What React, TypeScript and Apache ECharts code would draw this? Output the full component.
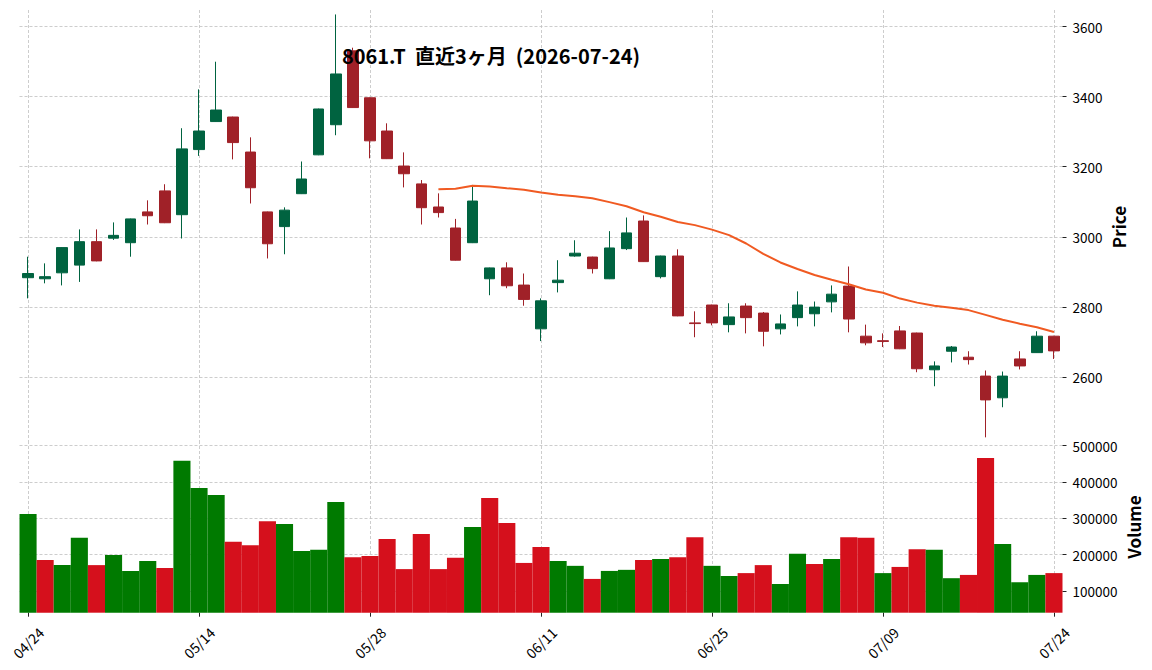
import React, { useEffect, useRef } from "react";
import * as echarts from "echarts";

const dates = [
  "04/24", "04/27", "04/28", "04/30", "05/01", "05/07", "05/08", "05/11", "05/12", "05/13",
  "05/14", "05/15", "05/18", "05/19", "05/20", "05/21", "05/22", "05/25", "05/26", "05/27",
  "05/28", "05/29", "06/01", "06/02", "06/03", "06/04", "06/05", "06/08", "06/09", "06/10",
  "06/11", "06/12", "06/15", "06/16", "06/17", "06/18", "06/19", "06/22", "06/23", "06/24",
  "06/25", "06/26", "06/29", "06/30", "07/01", "07/02", "07/03", "07/06", "07/07", "07/08",
  "07/09", "07/10", "07/13", "07/14", "07/15", "07/16", "07/17", "07/21", "07/22", "07/23",
  "07/24",
];

const opens = [
  2883, 2880, 2897, 2919, 2986, 2996, 2983, 3071, 3131, 3063,
  3249, 3329, 3342, 3242, 3071, 3029, 3123, 3234, 3320, 3531,
  3397, 3302, 3202, 3151, 3085, 3025, 2983, 2880, 2911, 2862,
  2737, 2869, 2945, 2942, 2880, 2966, 3045, 2886, 2945, 2754,
  2805, 2749, 2802, 2782, 2737, 2769, 2780, 2814, 2859, 2716,
  2703, 2731, 2725, 2620, 2673, 2656, 2602, 2540, 2651, 2669,
  2716,
];
const highs = [
  2943, 2924, 2970, 3021, 3021, 3041, 3052, 3104, 3150, 3310,
  3421, 3500, 3343, 3284, 3072, 3084, 3215, 3366, 3635, 3540,
  3398, 3324, 3241, 3162, 3124, 3051, 3148, 2912, 2927, 2895,
  2824, 2933, 2990, 2943, 3016, 3055, 3061, 2946, 2964, 2787,
  2806, 2810, 2810, 2785, 2778, 2844, 2815, 2861, 2915, 2749,
  2724, 2745, 2726, 2644, 2688, 2673, 2618, 2615, 2673, 2730,
  2717,
];
const lows = [
  2824, 2867, 2861, 2871, 2930, 2991, 2943, 3035, 3039, 2995,
  3231, 3328, 3221, 3095, 2938, 2950, 3122, 3233, 3290, 3368,
  3224, 3222, 3141, 3035, 3055, 2932, 2982, 2833, 2853, 2803,
  2702, 2841, 2943, 2895, 2879, 2962, 2928, 2881, 2773, 2713,
  2747, 2727, 2724, 2687, 2721, 2744, 2744, 2784, 2727, 2690,
  2685, 2679, 2613, 2573, 2641, 2635, 2427, 2513, 2621, 2668,
  2651,
];
const closes = [
  2895, 2886, 2969, 2986, 2931, 3004, 3051, 3060, 3040, 3251,
  3302, 3362, 3269, 3140, 2980, 3076, 3165, 3365, 3465, 3369,
  3274, 3223, 3180, 3083, 3069, 2933, 3102, 2911, 2860, 2821,
  2817, 2876, 2953, 2909, 2968, 3011, 2929, 2945, 2774, 2752,
  2754, 2771, 2769, 2730, 2751, 2805, 2799, 2836, 2765, 2697,
  2701, 2680, 2623, 2631, 2685, 2649, 2534, 2602, 2631, 2716,
  2674,
];
const volumes = [
  312000, 185000, 171000, 246000, 171000, 199000, 155000, 182000, 163000, 458000,
  383000, 364000, 235000, 226000, 292000, 284000, 210000, 213000, 345000, 193000,
  196000, 243000, 160000, 257000, 160000, 191000, 276000, 356000, 287000, 177000,
  221000, 182000, 169000, 133000, 155000, 158000, 185000, 188000, 193000, 248000,
  169000, 141000, 149000, 171000, 119000, 202000, 174000, 188000, 248000, 246000,
  149000, 166000, 215000, 213000, 135000, 144000, 466000, 229000, 124000, 144000,
  149000,
];

const dateTicks = ["04/24", "05/14", "05/28", "06/11", "06/25", "07/09", "07/24"];
const priceTicks = [2600, 2800, 3000, 3200, 3400, 3600];
const volumeTicks = [100000, 200000, 300000, 400000, 500000];
const maWindow = 25;

const TITLE = "8061.T  直近3ヶ月  (2026-07-24)";
const FONT = '"Noto Sans CJK JP", "Noto Sans", sans-serif';
const UP = "#006340";
const DOWN = "#a02128";
const VOL_UP = "#007a00";
const VOL_DOWN = "#d5101c";
const MA_COLOR = "#f05a22";

function movingAverage(values: number[], n: number): (number | null)[] {
  return values.map((_, i) => {
    if (i < n - 1) return null;
    let s = 0;
    for (let k = i - n + 1; k <= i; k++) s += values[k];
    return s / n;
  });
}

export default function App() {
  const ref = useRef<HTMLDivElement>(null);
  useEffect(() => {
    if (!ref.current) return;
    const chart = echarts.init(ref.current, undefined, { renderer: "svg" });
    const isTick = (_i: number, v: string) => dateTicks.includes(v);
    const gridLine = { show: true, lineStyle: { color: "#c0c0c0", width: 0.8, type: [3, 2] as any } };
    const ma = movingAverage(closes, maWindow);
    const candleData = dates.map((_, i) => [opens[i], closes[i], lows[i], highs[i]]);
    const volData = dates.map((_, i) => ({
      value: volumes[i],
      itemStyle: { color: i === 0 || closes[i] >= closes[i - 1] ? VOL_UP : VOL_DOWN },
    }));
    const plain = (v: number) => String(v);

    const option: any = {
      animation: false,
      textStyle: { fontFamily: FONT },
      grid: [
        { left: 19.5, width: 1043, top: 10, height: 431 },
        { left: 19.5, width: 1043, top: 441, height: 171.7 },
      ],
      xAxis: [
        {
          type: "category", gridIndex: 0, data: dates, boundaryGap: true,
          axisLine: { show: false }, axisTick: { show: false }, axisLabel: { show: false },
          splitLine: { ...gridLine, interval: isTick, alignWithLabel: true },
        },
        {
          type: "category", gridIndex: 1, data: dates, boundaryGap: true,
          axisLine: { show: false },
          axisTick: { show: true, interval: isTick, alignWithLabel: true, length: 4, lineStyle: { color: "#222", width: 1 } },
          axisLabel: {
            interval: isTick, rotate: 45, align: "center", verticalAlign: "middle",
            margin: 30, fontSize: 14, color: "#000", fontFamily: FONT,
          },
          splitLine: { ...gridLine, interval: isTick, alignWithLabel: true },
        },
      ],
      yAxis: [
        {
          type: "value", gridIndex: 0, position: "right", min: 2416.6, max: 3647.7, scale: true,
          axisLine: { show: false },
          axisTick: { show: true, length: 4, customValues: priceTicks, lineStyle: { color: "#222", width: 1 } },
          axisLabel: {
            customValues: priceTicks, margin: 10, fontSize: 13.5, color: "#000", fontFamily: FONT,
            formatter: plain,
          },
          splitLine: gridLine,
        },
        {
          type: "value", gridIndex: 1, position: "right", min: 40000, max: 512700,
          axisLine: { show: false },
          axisTick: { show: true, length: 4, customValues: volumeTicks, lineStyle: { color: "#222", width: 1 } },
          axisLabel: {
            customValues: volumeTicks, margin: 10, fontSize: 13.5, color: "#000", fontFamily: FONT,
            formatter: plain,
          },
          splitLine: gridLine,
        },
      ],
      series: [
        {
          type: "candlestick", xAxisIndex: 0, yAxisIndex: 0, data: candleData, barWidth: 11,
          itemStyle: { color: UP, color0: DOWN, borderColor: UP, borderColor0: DOWN, borderWidth: 1 },
        },
        {
          type: "line", xAxisIndex: 0, yAxisIndex: 0, data: ma, showSymbol: false,
          lineStyle: { color: MA_COLOR, width: 2 }, z: 3,
        },
        {
          type: "bar", xAxisIndex: 1, yAxisIndex: 1, data: volData, barCategoryGap: "0%",
        },
      ],
      graphic: [
        {
          type: "text", x: 491, y: 55, z: 100,
          style: { text: TITLE, fill: "#000", font: `bold 20px ${FONT}`, align: "center", verticalAlign: "middle" },
        },
        {
          type: "text", x: 1118, y: 227, rotation: Math.PI / 2, z: 100,
          style: { text: "Price", fill: "#000", font: `bold 17px ${FONT}`, align: "center", verticalAlign: "middle" },
        },
        {
          type: "text", x: 1133, y: 527, rotation: Math.PI / 2, z: 100,
          style: { text: "Volume", fill: "#000", font: `bold 17px ${FONT}`, align: "center", verticalAlign: "middle" },
        },
      ],
    };
    chart.setOption(option);
    return () => chart.dispose();
  }, []);
  return (
    <div
      ref={ref}
      style={{ position: "fixed", left: 0, top: 0, width: 1152, height: 670, background: "#fff" }}
    />
  );
}
